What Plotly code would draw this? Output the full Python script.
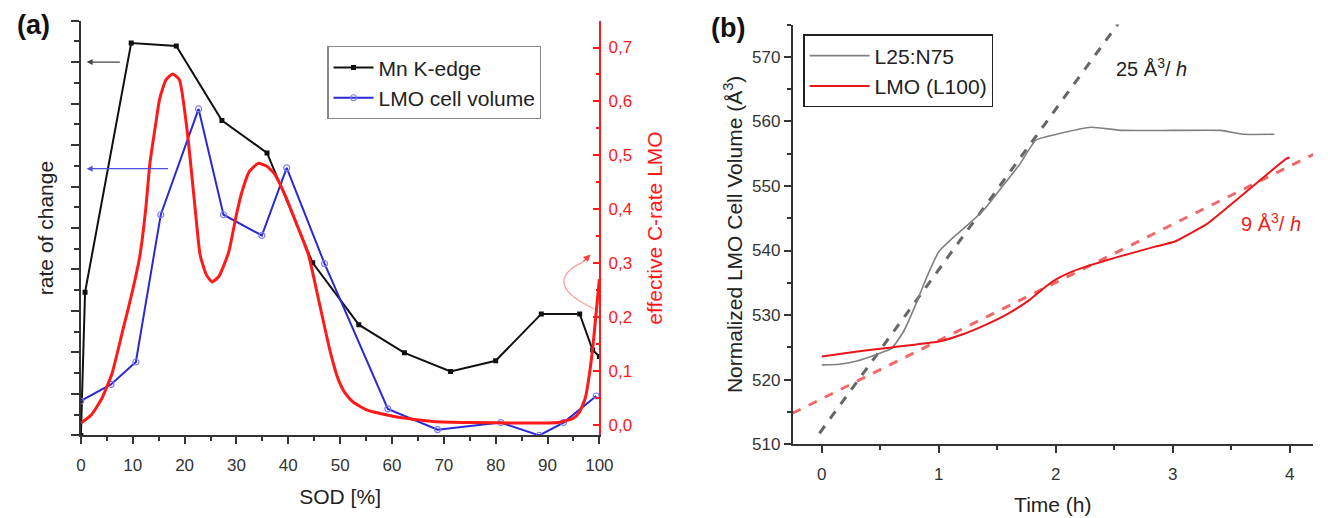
import plotly.graph_objects as go

# ---------------- Panel (a) data ----------------
sod_mn = [0, 0.8, 9.7, 18.4, 27.2, 35.9, 44.7, 53.6, 62.4, 71.3, 80.0, 88.8, 96.2, 98.7, 100]
rate_mn = [0.0, 3.45, 9.46, 9.39, 7.59, 6.81, 4.16, 2.67, 1.99, 1.54, 1.80, 2.93, 2.93, 2.06, 1.90]

sod_lmo = [0, 5.8, 10.6, 15.4, 22.7, 27.5, 34.9, 39.7, 47.0, 59.2, 68.8, 81.0, 88.4, 93.1, 99.4]
rate_lmo = [0.83, 1.23, 1.77, 5.32, 7.87, 5.32, 4.82, 6.45, 4.14, 0.64, 0.14, 0.31, 0.0, 0.31, 0.95]

sod_crate = [0, 2, 4, 6, 8, 10, 11.4, 12.5, 13.3, 14.3, 15.2, 16.4, 17.7, 19.0, 20.5, 21.8, 23.0,
             24.2, 25.3, 26.6, 28.5, 30.0, 31.0, 32.5, 34.2, 35.8, 37.3, 39.2, 41.5, 43.9, 46.0, 48.1,
             49.6, 51.0, 52.5, 55, 59.5, 64, 68, 75, 85, 92, 95, 96.2, 97.3, 98.1, 98.8, 99.4, 100]
crate = [0.003, 0.018, 0.048, 0.095, 0.172, 0.25, 0.315, 0.40, 0.484, 0.55, 0.605, 0.64, 0.651,
         0.64, 0.545, 0.424, 0.315, 0.278, 0.265, 0.275, 0.32, 0.39, 0.43, 0.47, 0.485, 0.48, 0.466,
         0.43, 0.375, 0.315, 0.225, 0.135, 0.085, 0.058, 0.042, 0.028, 0.017, 0.01, 0.006, 0.004,
         0.003, 0.004, 0.012, 0.024, 0.05, 0.095, 0.15, 0.21, 0.27]

sod_ticks = [0, 10, 20, 30, 40, 50, 60, 70, 80, 90, 100]

# ---------------- Panel (b) data ----------------
t_l25 = [0.0, 0.15, 0.3, 0.45, 0.6, 0.7, 0.8, 0.9, 1.0, 1.11, 1.25, 1.39, 1.56, 1.69, 1.83, 2.05,
         2.30, 2.57, 3.0, 3.41, 3.61, 3.87]
v_l25 = [522.3, 522.4, 522.9, 523.8, 524.9, 527.5, 531.5, 536.0, 539.8, 541.8, 544.0, 546.4, 550.3,
         553.3, 557.1, 558.2, 559.1, 558.6, 558.6, 558.6, 558.0, 558.0]

t_l100 = [0.0, 0.32, 0.6, 1.0, 1.2, 1.4, 1.59, 1.78, 1.9, 2.01, 2.15, 2.29, 2.51, 2.85, 3.02,
          3.30, 3.55, 3.78, 3.97, 4.0]
v_l100 = [523.6, 524.4, 525.0, 525.9, 527.0, 528.5, 530.2, 532.4, 534.2, 535.6, 536.8, 537.7,
          538.9, 540.6, 541.4, 544.2, 547.9, 551.4, 554.2, 554.4]

fit_t_l25 = [-0.02, 2.56]
fit_v_l25 = [511.7, 575.8]
fit_t_l100 = [-0.25, 4.25]
fit_v_l100 = [514.8, 555.3]

FONT = "Liberation Sans, Arial, sans-serif"
AX = "#333333"
RED = "#ff1a1a"

fig = go.Figure()

# Panel (a)
fig.add_trace(go.Scatter(x=sod_crate, y=crate, mode="lines",
                         line=dict(color=RED, width=3, shape="spline", smoothing=0.5),
                         xaxis="x", yaxis="y2", showlegend=False))
fig.add_trace(go.Scatter(x=sod_mn, y=rate_mn, mode="lines+markers", name="Mn K-edge",
                         line=dict(color="#111111", width=2), marker=dict(symbol="square", size=5, color="#111111"),
                         xaxis="x", yaxis="y", legend="legend"))
fig.add_trace(go.Scatter(x=sod_lmo, y=rate_lmo, mode="lines+markers", name="LMO cell volume",
                         line=dict(color="#2a2ad0", width=2),
                         marker=dict(symbol="circle-open", size=6, color="#7a7aff", line=dict(width=1.2)),
                         xaxis="x", yaxis="y", legend="legend"))

# Panel (b)
fig.add_trace(go.Scatter(x=fit_t_l25, y=fit_v_l25, mode="lines", line=dict(color="#666666", width=3, dash="dash"),
                         xaxis="x2", yaxis="y3", showlegend=False))
fig.add_trace(go.Scatter(x=fit_t_l100, y=fit_v_l100, mode="lines", line=dict(color="#f26868", width=3, dash="dash"),
                         xaxis="x2", yaxis="y3", showlegend=False))
fig.add_trace(go.Scatter(x=t_l25, y=v_l25, mode="lines", name="L25:N75",
                         line=dict(color="#808080", width=1.6, shape="spline", smoothing=0.4),
                         xaxis="x2", yaxis="y3", legend="legend2"))
fig.add_trace(go.Scatter(x=t_l100, y=v_l100, mode="lines", name="LMO (L100)",
                         line=dict(color="#e8161b", width=2, shape="spline", smoothing=0.4),
                         xaxis="x2", yaxis="y3", legend="legend2"))

W, H = 1328, 518
da_x = [77 / W, 603 / W]
da_y = [1 - 444 / H, 1 - 21 / H]
db_x = [799 / W, 1327 / W]
db_y = [1 - 453 / H, 1 - 25 / H]

tickfont = dict(family=FONT, size=17, color=AX)
titlefont = dict(family=FONT, size=21, color="#222222")

fig.update_layout(
    width=W, height=H, margin=dict(l=0, r=0, t=0, b=0),
    paper_bgcolor="white", plot_bgcolor="white",
    separators=",.",
    font=dict(family=FONT, color=AX),
    xaxis=dict(domain=da_x, anchor="y", range=[0, 100], tickvals=sod_ticks, ticks="outside", ticklen=7,
               tickwidth=1.5, tickcolor=AX, showline=True, linecolor=AX, linewidth=1.5, showgrid=False,
               zeroline=False, tickfont=tickfont, ticklabelstandoff=6,
               minor=dict(dtick=5, ticks="outside", ticklen=4, tickcolor=AX, tickwidth=1.5),
               title=dict(text="SOD [%]", font=titlefont, standoff=16)),
    xaxis3=dict(overlaying="x", side="top", anchor="y", range=[0, 100], dtick=5, ticks="inside", ticklen=5,
                tickwidth=1.5, tickcolor=AX, showticklabels=False, showline=True, linecolor=AX, linewidth=1.5,
                showgrid=False, zeroline=False),
    yaxis=dict(domain=da_y, anchor="x", range=[0, 10], dtick=1, ticks="outside", ticklen=8, tickwidth=1.5,
               tickcolor=AX, showticklabels=False, showline=True, linecolor=AX, linewidth=1.5, showgrid=False,
               zeroline=False, minor=dict(dtick=0.5, ticks="outside", ticklen=5, tickcolor=AX, tickwidth=1.5),
               title=dict(text="rate of change", font=titlefont, standoff=12)),
    yaxis2=dict(overlaying="y", side="right", anchor="x", range=[-0.02, 0.75], dtick=0.1, tickformat=".1f",
                ticks="inside", ticklen=7, tickwidth=1.5, tickcolor=RED, showline=True, linecolor=RED,
                linewidth=1.5, showgrid=False, zeroline=False, ticklabelstandoff=4,
                tickfont=dict(family=FONT, size=17, color=RED),
                minor=dict(dtick=0.05, ticks="inside", ticklen=4, tickcolor=RED, tickwidth=1.5),
                title=dict(text="effective C-rate LMO", font=dict(family=FONT, size=21, color=RED), standoff=16)),
    xaxis2=dict(domain=db_x, anchor="y3", range=[-0.25, 4.2], dtick=1, ticks="outside", ticklen=7, tickwidth=1.5,
                tickcolor=AX, showline=True, linecolor=AX, linewidth=1.5, showgrid=False, zeroline=False,
                tickfont=dict(family=FONT, size=17, color=AX), ticklabelstandoff=7,
                minor=dict(dtick=0.5, ticks="outside", ticklen=4, tickcolor=AX, tickwidth=1.5),
                title=dict(text="Time (h)", font=titlefont, standoff=14)),
    xaxis4=dict(overlaying="x2", side="top", anchor="y3", range=[-0.25, 4.2], dtick=0.5, ticks="inside", ticklen=5,
                tickwidth=1.5, tickcolor=AX, showticklabels=False, showline=True, linecolor=AX, linewidth=1.5,
                showgrid=False, zeroline=False),
    yaxis3=dict(domain=db_y, anchor="x2", range=[510, 575], dtick=10, ticks="outside", ticklen=7, tickwidth=1.5,
                tickcolor=AX, showline=True, linecolor=AX, linewidth=1.5, showgrid=False, zeroline=False,
                tickfont=dict(family=FONT, size=17, color=AX),
                minor=dict(dtick=5, ticks="outside", ticklen=4, tickcolor=AX, tickwidth=1.5),
                title=dict(text="Normalized LMO Cell Volume (Å<sup>3</sup>)", font=titlefont, standoff=4)),
    yaxis4=dict(overlaying="y3", side="right", anchor="x2", range=[510, 575], dtick=10, ticks="inside", ticklen=6,
                tickwidth=1.5, tickcolor=AX, showticklabels=False, showline=True, linecolor=AX, linewidth=1.5,
                showgrid=False, zeroline=False),
    legend=dict(x=327 / W, y=1 - 47 / H, xanchor="left", yanchor="top", bgcolor="white",
                bordercolor="#888888", borderwidth=1.2, font=dict(family=FONT, size=21, color="#222222"),
                tracegroupgap=0, itemwidth=40),
    legend2=dict(x=810 / W, y=1 - 35 / H, xanchor="left", yanchor="top", bgcolor="white",
                 bordercolor="#222222", borderwidth=1.2, font=dict(family=FONT, size=21, color="#222222"),
                 tracegroupgap=0, itemwidth=60),
    hovermode=False,
)

annotations = [
    dict(text="<b>(a)</b>", x=10 / W, y=1 - 8 / H, xref="paper", yref="paper", xanchor="left", yanchor="top",
         showarrow=False, font=dict(family=FONT, size=27, color="#111111")),
    dict(text="<b>(b)</b>", x=714 / W, y=1 - 11 / H, xref="paper", yref="paper", xanchor="left", yanchor="top",
         showarrow=False, font=dict(family=FONT, size=27, color="#111111")),
    # arrows pointing to left axis
    dict(x=1.1, y=9.0, ax=7.8, ay=9.0, xref="x", yref="y", axref="x", ayref="y", showarrow=True,
         arrowhead=2, arrowsize=1, arrowwidth=1.2, arrowcolor="#444444", text=""),
    dict(x=1.1, y=6.43, ax=17.1, ay=6.43, xref="x", yref="y", axref="x", ayref="y", showarrow=True,
         arrowhead=2, arrowsize=1, arrowwidth=1.2, arrowcolor="#5050e0", text=""),
    # curved arrow head towards right axis
    dict(x=98.3, y=0.316, ax=96.6, ay=0.300, xref="x", yref="y2", axref="x", ayref="y2", showarrow=True,
         arrowhead=2, arrowsize=1.2, arrowwidth=1.2, arrowcolor="#ff4040", text=""),
    # slope labels in (b)
    dict(text="25 Å<sup>3</sup>/ <i>h</i>", x=2.5, y=568.3, xref="x2", yref="y3", xanchor="left", yanchor="middle",
         showarrow=False, font=dict(family=FONT, size=20, color="#222222")),
    dict(text="9 Å<sup>3</sup>/ <i>h</i>", x=3.57, y=544.4, xref="x2", yref="y3", xanchor="left", yanchor="middle",
         showarrow=False, font=dict(family=FONT, size=20, color="#ee2020")),
]
fig.update_layout(annotations=annotations)

fig.add_shape(type="path", xref="x", yref="y2", path="M 99.0,0.215 Q 88.5,0.262 96.8,0.302",
              line=dict(color="rgba(255,80,80,0.55)", width=1.3))

fig.write_html("out.html")
